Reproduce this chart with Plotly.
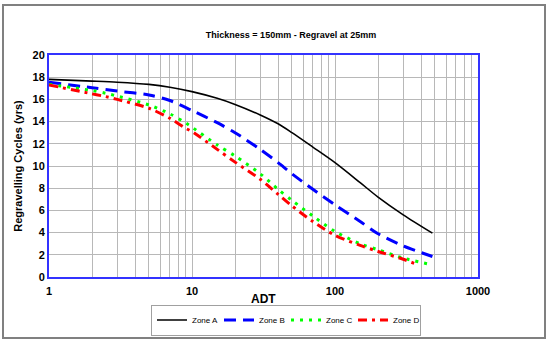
import plotly.graph_objects as go

adt_a = [1, 2, 3, 5, 7, 10, 15, 20, 30, 40, 50, 70, 100, 150, 200, 300, 480]
zone_a = [17.8, 17.65, 17.55, 17.35, 17.1, 16.7, 16.1, 15.55, 14.6, 13.8, 13.0, 11.7, 10.3, 8.5, 7.2, 5.6, 3.95]

adt_b = [1, 2, 3, 5, 7, 10, 15, 20, 30, 40, 50, 70, 100, 150, 200, 300, 480]
zone_b = [17.55, 17.05, 16.75, 16.4, 15.9, 15.0, 13.9, 13.0, 11.5, 10.3, 9.3, 7.9, 6.5, 5.0, 3.9, 2.8, 1.85]

adt_c = [1, 2, 2.5, 3, 5, 7, 9, 10, 15, 20, 30, 40, 50, 70, 100, 150, 200, 300, 440]
zone_c = [17.35, 16.8, 16.55, 16.3, 15.5, 14.7, 13.9, 13.5, 11.9, 10.9, 9.3, 7.9, 6.9, 5.5, 4.1, 3.0, 2.45, 1.7, 1.2]

adt_d = [1, 2, 2.5, 3, 5, 7, 9, 10, 15, 20, 30, 40, 50, 70, 100, 150, 200, 300, 380]
zone_d = [17.3, 16.5, 16.25, 16.0, 15.2, 14.3, 13.4, 13.1, 11.5, 10.35, 8.8, 7.45, 6.4, 5.0, 3.75, 2.85, 2.3, 1.6, 1.1]

x_ticks = [1, 10, 100, 1000]
x_tick_labels = ["1", "10", "100", "1000"]

FONT = "Liberation Sans, Arial, sans-serif"

fig = go.Figure()
fig.add_trace(go.Scatter(x=adt_a, y=zone_a, mode="lines", name="Zone A",
                         line=dict(color="black", width=1.6, shape="spline", smoothing=0.8)))
fig.add_trace(go.Scatter(x=adt_b, y=zone_b, mode="lines", name="Zone B",
                         line=dict(color="#0000ff", width=3, dash="12px,7px", shape="spline", smoothing=0.8)))
fig.add_trace(go.Scatter(x=adt_c, y=zone_c, mode="lines", name="Zone C",
                         line=dict(color="#00ff00", width=3, dash="3px,6px", shape="spline", smoothing=0.8)))
fig.add_trace(go.Scatter(x=adt_d, y=zone_d, mode="lines", name="Zone D",
                         line=dict(color="#ff0000", width=3, dash="9px,5px,3px,5px", shape="spline", smoothing=0.8)))

L, R, T, B = 49, 72, 55, 66
W, H = 550, 343
pw, ph = W - L - R, H - T - B

def px_x(x):
    return (x - L) / pw

def px_y(y):
    return (H - B - y) / ph

fig.add_shape(type="rect", xref="paper", yref="paper",
              x0=px_x(3), x1=px_x(545), y0=px_y(338), y1=px_y(5),
              line=dict(color="#808080", width=2), layer="below")

fig.add_annotation(text="<b>ADT</b>", xref="paper", yref="paper",
                   x=px_x(263), y=px_y(299), xanchor="center", yanchor="middle",
                   showarrow=False, font=dict(size=12, family=FONT))

fig.update_layout(
    width=W, height=H,
    margin=dict(l=L, r=R, t=T, b=B, autoexpand=False),
    paper_bgcolor="white", plot_bgcolor="white",
    font=dict(family=FONT, color="black"),
    title=dict(text="<b>Thickness = 150mm - Regravel at 25mm</b>",
               x=px_x(276), xanchor="center", y=1 - 35 / H, yanchor="middle",
               font=dict(size=9)),
    showlegend=True,
    legend=dict(orientation="h", x=px_x(151), xanchor="left",
                y=px_y(320), yanchor="middle",
                font=dict(size=8), bordercolor="#a0a0a0", borderwidth=1,
                entrywidth=22, entrywidthmode="pixels", tracegroupgap=0,
                itemwidth=30),
)

fig.update_xaxes(
    type="log", range=[0, 3],
    tickvals=x_ticks, ticktext=x_tick_labels,
    tickfont=dict(size=11, family=FONT, weight="bold"),
    ticks="", ticklabelstandoff=3,
    showgrid=True, gridcolor="#b8b8b8", gridwidth=1,
    minor=dict(showgrid=True, gridcolor="#b8b8b8", gridwidth=1, dtick="D1"),
    showline=True, linecolor="#3333ff", linewidth=2, mirror=True,
    zeroline=False,
)
fig.update_yaxes(
    range=[0, 20], dtick=2, tick0=0,
    tickfont=dict(size=11, family=FONT, weight="bold"),
    ticks="",
    showgrid=True, gridcolor="#b8b8b8", gridwidth=1,
    showline=True, linecolor="#3333ff", linewidth=2, mirror=True,
    zeroline=False,
    title=dict(text="<b>Regravelling Cycles (yrs)</b>", font=dict(size=11), standoff=8),
)

fig.write_html("out.html", config={"displayModeBar": False},
               post_script="document.body.style.margin='0';")
